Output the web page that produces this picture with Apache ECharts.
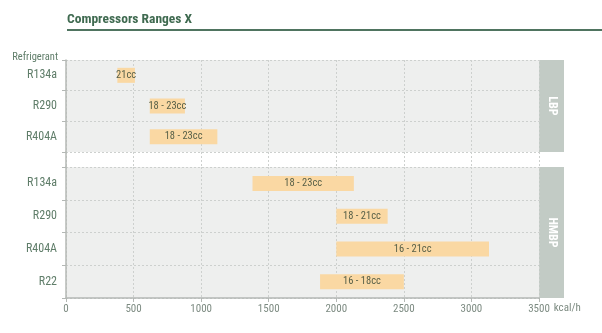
<!DOCTYPE html>
<html><head><meta charset="utf-8">
<script src="https://cdn.jsdelivr.net/npm/echarts@6/dist/echarts.min.js"></script>
<style>html,body{margin:0;padding:0;background:#fff}#c{width:602px;height:333px}</style>
</head><body><div id="c"></div>
<script>
const titleText = 'Compressors Ranges X';
const lbpCats = ['R134a', 'R290', 'R404A'];
const lbpStart = [380, 620, 620];
const lbpEnd = [510, 880, 1120];
const lbpLabels = ['21cc', '18 - 23cc', '18 - 23cc'];
const hmbpCats = ['R134a', 'R290', 'R404A', 'R22'];
const hmbpStart = [1380, 2000, 2000, 1880];
const hmbpEnd = [2130, 2380, 3130, 2500];
const hmbpLabels = ['18 - 23cc', '18 - 21cc', '16 - 21cc', '16 - 18cc'];
const xMin = 0, xMax = 3500, xStep = 500;
const xUnit = 'kcal/h';
const yName = 'Refrigerant';
const groupNames = ['LBP', 'HMBP'];

const FONT = '"Roboto Condensed", "Liberation Sans", Arial, sans-serif';
const LABEL_C = '#5f7d69';
const XLAB_C = '#7d8b82';
const AXIS_C = '#b4b8b5';
const GRID_C = '#cdd0ce';
const PANEL_BG = '#eeefee';
const STRIP_C = '#c2cbc5';
const BAR_C = '#fad8a3';

const L = 66, R = 63;
const g1 = {top: 60, height: 92};
const gGap = {top: 152, height: 15};
const g2 = {top: 167, height: 131};

function xAx(gi, showLabels) {
  return {
    type: 'value', gridIndex: gi, min: xMin, max: xMax, interval: xStep, show: true,
    axisLine: {show: showLabels, lineStyle: {color: AXIS_C, width: 1.5}},
    axisTick: {show: showLabels, length: 4, lineStyle: {color: AXIS_C}},
    axisLabel: {show: showLabels, color: XLAB_C, fontFamily: FONT, fontSize: 11, margin: 6,
      formatter: v => String(v)},
    splitLine: {show: true, lineStyle: {color: GRID_C, type: [2, 2], width: 1}},
    name: showLabels ? xUnit : '', nameLocation: 'end', nameGap: 7,
    nameTextStyle: {color: XLAB_C, fontFamily: FONT, fontSize: 11, verticalAlign: 'top', padding: [5, 0, 0, 0]}
  };
}
function yAx(gi, cats, name) {
  return {
    type: 'category', gridIndex: gi, data: cats, inverse: true,
    axisLine: {show: true, lineStyle: {color: AXIS_C, width: 1.5}},
    axisTick: {show: true, length: 4, lineStyle: {color: AXIS_C}},
    axisLabel: {show: true, color: LABEL_C, fontFamily: FONT, fontSize: 12, margin: 9},
    splitLine: {show: true, lineStyle: {color: GRID_C, type: [2, 2], width: 1}},
    name: name || '', nameLocation: 'start', nameGap: 3,
    nameTextStyle: {color: LABEL_C, fontFamily: FONT, fontSize: 10.5, align: 'right', verticalAlign: 'middle', padding: [0, 8, 0, 0]}
  };
}
function barPair(gi, start, end, labels) {
  return [
    {type: 'bar', xAxisIndex: gi, yAxisIndex: gi, stack: 's' + gi, data: start,
     itemStyle: {color: 'transparent'}, barWidth: 15, silent: true},
    {type: 'bar', xAxisIndex: gi, yAxisIndex: gi, stack: 's' + gi,
     data: end.map((e, i) => e - start[i]), itemStyle: {color: BAR_C}, barWidth: 15,
     label: {show: true, position: 'inside', color: '#586048', fontFamily: FONT, fontSize: 10.5,
       formatter: p => labels[p.dataIndex]}}
  ];
}

const chart = echarts.init(document.getElementById('c'), null, {renderer: 'canvas'});
chart.setOption({
  animation: false,
  backgroundColor: '#fff',
  title: {text: titleText, left: 62, top: 8,
    textStyle: {color: '#3f6a50', fontFamily: FONT, fontSize: 13.5, fontWeight: 'bold'}},
  grid: [
    {left: L, right: R, top: g1.top, height: g1.height, show: true, backgroundColor: PANEL_BG, borderWidth: 0},
    {left: L, right: R, top: gGap.top, height: gGap.height, show: false},
    {left: L, right: R, top: g2.top, height: g2.height, show: true, backgroundColor: PANEL_BG, borderWidth: 0}
  ],
  xAxis: [xAx(0, false), xAx(1, false), xAx(2, true)],
  yAxis: [
    yAx(0, lbpCats, yName),
    {type: 'value', gridIndex: 1, min: 0, max: 1, show: true,
     axisLine: {show: true, lineStyle: {color: AXIS_C, width: 1.5}},
     axisTick: {show: false}, axisLabel: {show: false}, splitLine: {show: false}},
    yAx(2, hmbpCats)
  ],
  graphic: [
    {type: 'line', shape: {x1: 67, y1: 30, x2: 602, y2: 30}, style: {stroke: '#4f7460', lineWidth: 2}},
    {type: 'rect', shape: {x: 539, y: g1.top, width: 25, height: g1.height}, style: {fill: STRIP_C}},
    {type: 'rect', shape: {x: 539, y: g2.top, width: 25, height: g2.height}, style: {fill: STRIP_C}},
    {type: 'text', x: 551.5, y: g1.top + g1.height / 2, rotation: -Math.PI / 2,
     style: {text: groupNames[0], fill: '#fff', font: 'bold 12px ' + FONT, textAlign: 'center', textVerticalAlign: 'middle'}},
    {type: 'text', x: 551.5, y: g2.top + g2.height / 2, rotation: -Math.PI / 2,
     style: {text: groupNames[1], fill: '#fff', font: 'bold 12px ' + FONT, textAlign: 'center', textVerticalAlign: 'middle'}}
  ],
  series: [].concat(
    barPair(0, lbpStart, lbpEnd, lbpLabels),
    [{type: 'scatter', xAxisIndex: 1, yAxisIndex: 1, data: [[xMin, 0]], symbolSize: 0, silent: true}],
    barPair(2, hmbpStart, hmbpEnd, hmbpLabels)
  )
});
</script></body></html>
